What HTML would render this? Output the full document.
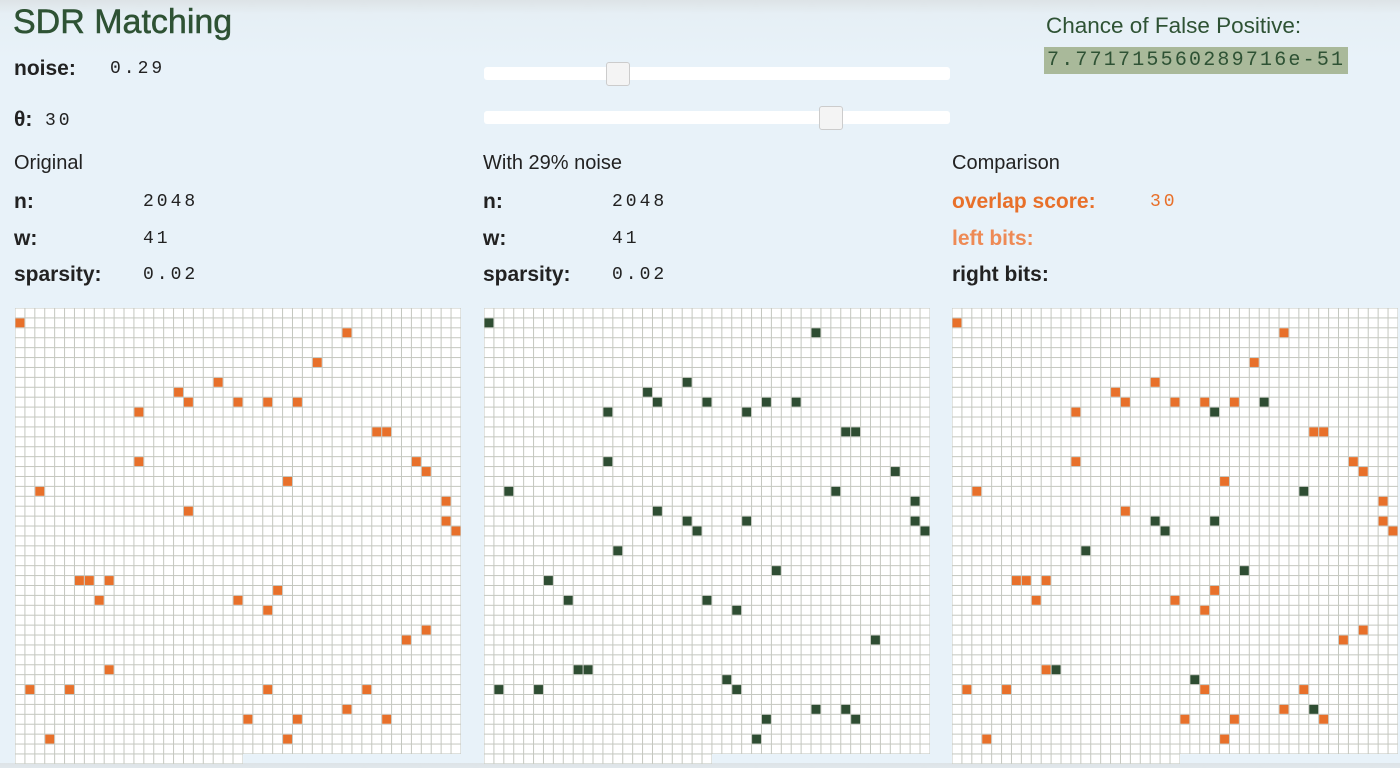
<!DOCTYPE html>
<html><head><meta charset="utf-8"><style>
body{margin:0;width:1400px;height:763px;overflow:hidden;background:linear-gradient(#dde3e6 0px,#e6eff5 14px,#e8f2f9 60px,#e8f2f9 100%);font-family:"Liberation Sans",sans-serif;position:relative}
.a{position:absolute;white-space:nowrap}
.b{font-weight:bold;font-size:21px;color:#222}
.m{font-family:"Liberation Mono",monospace;font-size:18px;color:#222;letter-spacing:3px}
.h{font-size:20px;color:#222}
.slider{position:absolute;left:484px;width:466px;height:13px;background:#fff;border-radius:3px}
.thumb{position:absolute;top:-5px;width:22px;height:22px;background:#f4f4f4;border:1px solid #ccc;border-radius:3px}
svg{position:absolute}
</style></head><body>
<div class="a" style="left:13px;top:3px;font-size:34px;color:#2e5234;-webkit-text-stroke:0.5px #2e5234">SDR Matching</div>
<div class="a b" style="left:14px;top:57px">noise:</div>
<div class="a m" style="left:110px;top:59px">0.29</div>
<div class="a b" style="left:14px;top:108px">θ:</div>
<div class="a m" style="left:45px;top:111px">30</div>
<div class="slider" style="top:67px"><div class="thumb" style="left:122px"></div></div>
<div class="slider" style="top:111px"><div class="thumb" style="left:335px"></div></div>
<div class="a" style="left:1046px;top:13px;font-size:22.5px;color:#2e5234">Chance of False Positive:</div>
<div class="a" style="left:1044px;top:47px;height:27px;padding:0 3px;background:#a9b99a;font-family:'Liberation Mono',monospace;font-size:20px;letter-spacing:2.2px;line-height:28px;color:#2e5234">7.771715560289716e-51</div>

<div class="a h" style="left:14px;top:152px">Original</div>
<div class="a b" style="left:14px;top:190px">n:</div>
<div class="a m" style="left:143px;top:192px">2048</div>
<div class="a b" style="left:14px;top:227px">w:</div>
<div class="a m" style="left:143px;top:229px">41</div>
<div class="a b" style="left:14px;top:263px">sparsity:</div>
<div class="a m" style="left:143px;top:265px">0.02</div>

<div class="a h" style="left:483px;top:152px">With 29% noise</div>
<div class="a b" style="left:483px;top:190px">n:</div>
<div class="a m" style="left:612px;top:192px">2048</div>
<div class="a b" style="left:483px;top:227px">w:</div>
<div class="a m" style="left:612px;top:229px">41</div>
<div class="a b" style="left:483px;top:263px">sparsity:</div>
<div class="a m" style="left:612px;top:265px">0.02</div>

<div class="a h" style="left:952px;top:152px">Comparison</div>
<div class="a b" style="left:952px;top:190px;color:#e8702a">overlap score:</div>
<div class="a m" style="left:1150px;top:192px;color:#e8702a">30</div>
<div class="a b" style="left:952px;top:227px;color:#ee8a55">left bits:</div>
<div class="a b" style="left:952px;top:263px">right bits:</div>

<svg id="g1" style="left:15px;top:308px" width="448" height="460"></svg>
<svg id="g2" style="left:484px;top:308px" width="448" height="460"></svg>
<svg id="g3" style="left:952px;top:308px" width="448" height="460"></svg>
<script>
const nBits=2048, cols=45;
const leftBits=[[0,1],[33,2],[30,5],[20,7],[16,8],[17,9],[22,9],[25,9],[28,9],[12,10],[36,12],[37,12],[12,15],[40,15],[41,16],[27,17],[2,18],[43,19],[17,20],[43,21],[44,22],[6,27],[7,27],[9,27],[26,28],[8,29],[22,29],[25,30],[41,32],[39,33],[9,36],[1,38],[5,38],[25,38],[35,38],[33,40],[23,41],[28,41],[37,41],[27,43],[3,43]];
const rightBits=[[0,1],[33,2],[20,7],[16,8],[17,9],[22,9],[28,9],[31,9],[12,10],[26,10],[36,12],[37,12],[12,15],[41,16],[2,18],[35,18],[43,19],[17,20],[20,21],[26,21],[43,21],[44,22],[21,22],[13,24],[29,26],[6,27],[8,29],[22,29],[25,30],[39,33],[9,36],[10,36],[24,37],[1,38],[5,38],[25,38],[33,40],[36,40],[28,41],[37,41],[27,43]];
const P=9.91;
const NS='http://www.w3.org/2000/svg';
function grid(svg){
  for(let i=0;i<nBits;i++){
    const c=i%cols,r=Math.floor(i/cols);
    const e=document.createElementNS(NS,'rect');
    
    
    e.setAttribute('x',c*P+0.5);e.setAttribute('y',r*P+0.5);
    e.setAttribute('width',P-1);e.setAttribute('height',P-1);
    e.setAttribute('fill','#fff');
    svg.appendChild(e);
  }
}
function bits(svg,list,color){
  list.forEach(b=>{
    const e=document.createElementNS(NS,'rect');
    
    
    e.setAttribute('x',b[0]*P+0.5);e.setAttribute('y',b[1]*P+0.5);
    e.setAttribute('width',P-1);e.setAttribute('height',P-1);
    e.setAttribute('fill',color);
    svg.appendChild(e);
  });
}
['g1','g2','g3'].forEach(id=>{
  const s=document.getElementById(id);
  const b=document.createElementNS(NS,'path');
  const rows=Math.floor(nBits/cols), rem=nBits%cols;
  b.setAttribute('d',`M0 0H${cols*P}V${rows*P}H${rem*P}V${(rows+1)*P}H0Z`);
  b.setAttribute('fill','#c4c7bf');
  
  
  s.appendChild(b);
  grid(s);
});
bits(document.getElementById('g1'),leftBits,'#e8702a');
bits(document.getElementById('g2'),rightBits,'#2e4d32');
const key=b=>b[0]+','+b[1];
const ls=new Set(leftBits.map(key));
bits(document.getElementById('g3'),rightBits.filter(b=>!ls.has(key(b))),'#2e4d32');
bits(document.getElementById('g3'),leftBits,'#e8702a');
</script>
</body></html>
